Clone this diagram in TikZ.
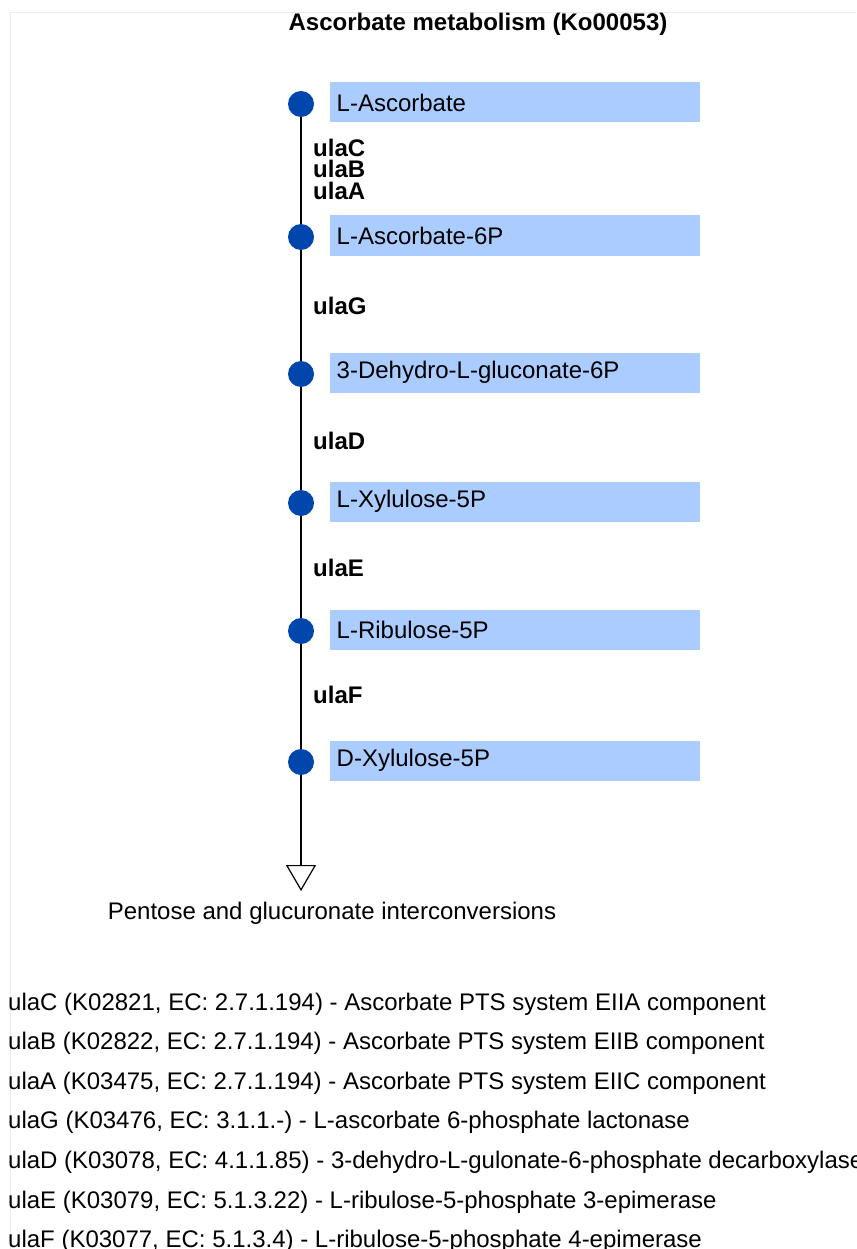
\documentclass[tikz,border=0pt]{standalone}
\usepackage{fontspec}
\setmainfont{Liberation Sans}
\usetikzlibrary{arrows.meta}
\definecolor{cpdblue}{HTML}{0046AD}
\definecolor{boxblue}{HTML}{AACCFF}
\definecolor{framegray}{HTML}{EBEBEB}
\newcommand{\txtsize}{\fontsize{24}{21.5}\selectfont}

\begin{document}
\begin{tikzpicture}[x=1pt,y=-1pt,
  cpd/.style={circle,fill=cpdblue,minimum size=26pt,inner sep=0pt},
  metbox/.style={fill=boxblue,anchor=west,minimum height=40pt,text width=356pt,inner xsep=7pt,font=\txtsize},
  enz/.style={anchor=west,align=left,inner sep=0pt,font=\txtsize\bfseries},
  legline/.style={anchor=west,inner sep=0pt,font=\txtsize}]
  \useasboundingbox (0,0) rectangle (856,1249);
  \clip (0,0) rectangle (856,1249);
  \draw[framegray] (10,1249) -- (10,12) -- (856,12);
  \node[font=\txtsize\bfseries] (title) at (478,24) {Ascorbate metabolism (Ko00053)};
  % compounds
  \foreach \n/\y/\cpdname in {c1/104/L-Ascorbate, c2/237/L-Ascorbate-6P, c3/374/3-Dehydro-L-gluconate-6P,
      c4/503/L-Xylulose-5P, c5/631/L-Ribulose-5P, c6/762/D-Xylulose-5P}{
    \node[cpd] (\n) at (301,\y) {};
    \node[metbox] (\n-box) at (329.5,\y-1.5) {\cpdname};
  }
  \coordinate (out) at (301,891);
  \draw[line width=1.3pt] (c1) -- (c2) -- (c3) -- (c4) -- (c5) -- (c6);
  \draw[line width=1.3pt,-{Triangle[open,length=26pt,width=30pt,line width=1.2pt]}] (c6) -- (out);
  % enzymes
  \node[enz] (e1) at (313,169) {ulaC\\ulaB\\ulaA};
  \node[enz] (e2) at (313,306) {ulaG};
  \node[enz] (e3) at (313,441) {ulaD};
  \node[enz] (e4) at (313,568) {ulaE};
  \node[enz] (e5) at (313,695) {ulaF};
  \node[font=\txtsize] (next) at (332,913) {Pentose and glucuronate interconversions};
  % legend
  \foreach \y/\leg in {1004/{ulaC (K02821, EC: 2.7.1.194) - Ascorbate PTS system EIIA component},
      1043/{ulaB (K02822, EC: 2.7.1.194) - Ascorbate PTS system EIIB component},
      1083/{ulaA (K03475, EC: 2.7.1.194) - Ascorbate PTS system EIIC component},
      1122/{ulaG (K03476, EC: 3.1.1.-) - L-ascorbate 6-phosphate lactonase},
      1162/{ulaD (K03078, EC: 4.1.1.85) - 3-dehydro-L-gulonate-6-phosphate decarboxylase},
      1202/{ulaE (K03079, EC: 5.1.3.22) - L-ribulose-5-phosphate 3-epimerase},
      1241/{ulaF (K03077, EC: 5.1.3.4) - L-ribulose-5-phosphate 4-epimerase}}{
    \node[legline] at (8,\y) {\leg};
  }
\end{tikzpicture}
\end{document}
